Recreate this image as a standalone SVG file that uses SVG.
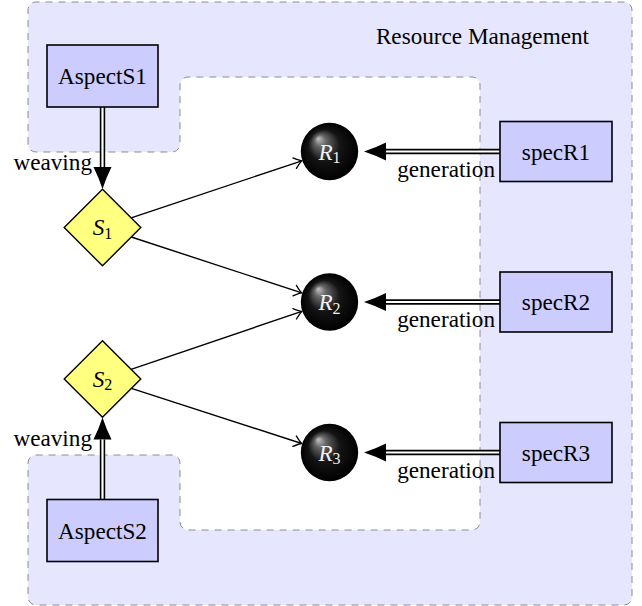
<svg xmlns="http://www.w3.org/2000/svg" width="642" height="606" viewBox="0 0 642 606">
  <defs>
    <radialGradient id="ballShade" cx="0.5" cy="0.5" r="0.5" fx="0.3" fy="0.27">
      <stop offset="0" stop-color="#c4c4c4"/>
      <stop offset="0.2" stop-color="#666666"/>
      <stop offset="0.55" stop-color="#141414"/>
      <stop offset="1" stop-color="#000000"/>
    </radialGradient>
    <!-- open "to" arrow tip for plain connectors -->
    <marker id="toTip" viewBox="-9 -7 11 14" refX="0" refY="0" markerWidth="11" markerHeight="14" markerUnits="userSpaceOnUse" orient="auto" overflow="visible">
      <path d="M -7.5,-5.5 Q -2,-0.8 0,0 Q -2,0.8 -7.5,5.5" fill="none" stroke="#000" stroke-width="1.3" stroke-linecap="round"/>
    </marker>
    <!-- filled latex-style tip for double connectors -->
    <marker id="latexTip" viewBox="-1 -10 24 20" refX="0" refY="0" markerWidth="24" markerHeight="20" markerUnits="userSpaceOnUse" orient="auto" overflow="visible">
      <path d="M 0,-9 Q 10,-4 22,0 Q 10,4 0,9 Z" fill="#000"/>
    </marker>
  </defs>
  <style>
    text { font-family: "Liberation Serif", "Times New Roman", serif; font-size: 23.2px; fill: #000; }
    .region { fill: #e6e6ff; stroke: #8c8c8c; stroke-width: 1; stroke-dasharray: 7 6; }
    .box { fill: #ccccff; stroke: #000; stroke-width: 1.6; }
    .diamond { fill: #ffff80; stroke: #000; stroke-width: 1.4; }
    .ball { fill: url(#ballShade); }
    .ballText { fill: #f2f2f2; }
    .it { font-style: italic; }
    .sub { font-size: 16px; }
    .link { fill: none; stroke: #000; stroke-width: 1.4; marker-end: url(#toTip); }
    .dblOuter { fill: none; stroke: #000; stroke-width: 5.4; marker-end: url(#latexTip); }
    .dblInner { fill: none; stroke: #fff; stroke-width: 2.2; }
  </style>

  <!-- shaded Resource Management area with white working area cut out -->
  <g id="resource-management">
    <path class="region" d="M 28,144 V 10 A 8 8 0 0 1 36,2 H 624 A 8 8 0 0 1 632,10 V 597 A 8 8 0 0 1 624,605 H 36 A 8 8 0 0 1 28,597 V 463 A 8 8 0 0 1 36,455 H 172 A 8 8 0 0 1 180,463 V 522 A 8 8 0 0 0 188,530 H 472 A 8 8 0 0 0 480,522 V 85 A 8 8 0 0 0 472,77 H 188 A 8 8 0 0 0 180,85 V 144 A 8 8 0 0 1 172,152 H 36 A 8 8 0 0 1 28,144 Z"/>
    <text x="589" y="44" text-anchor="end">Resource Management</text>
  </g>

  <!-- connectors -->
  <g id="connectors">
    <line class="link" x1="131.2" y1="217.9" x2="301.8" y2="160.8"/>
    <line class="link" x1="131.3" y1="237.0" x2="301.8" y2="292.9"/>
    <line class="link" x1="131.1" y1="369.3" x2="301.8" y2="311.4"/>
    <line class="link" x1="131.4" y1="388.4" x2="301.7" y2="443.5"/>

    <line class="dblOuter" x1="102.5" y1="107" x2="102.5" y2="167"/>
    <line class="dblInner" x1="102.5" y1="107" x2="102.5" y2="167"/>
    <text x="92" y="170" text-anchor="end">weaving</text>

    <line class="dblOuter" x1="102.5" y1="499.5" x2="102.5" y2="439.5"/>
    <line class="dblInner" x1="102.5" y1="499.5" x2="102.5" y2="439.5"/>
    <text x="92" y="446" text-anchor="end">weaving</text>

    <line class="dblOuter" x1="500" y1="151.5" x2="386" y2="151.5"/>
    <line class="dblInner" x1="500" y1="151.5" x2="386" y2="151.5"/>
    <text x="495" y="177" text-anchor="end">generation</text>

    <line class="dblOuter" x1="500" y1="302" x2="386" y2="302"/>
    <line class="dblInner" x1="500" y1="302" x2="386" y2="302"/>
    <text x="495" y="327" text-anchor="end">generation</text>

    <line class="dblOuter" x1="500" y1="452.5" x2="386" y2="452.5"/>
    <line class="dblInner" x1="500" y1="452.5" x2="386" y2="452.5"/>
    <text x="495" y="478" text-anchor="end">generation</text>
  </g>

  <!-- aspect boxes -->
  <g id="AspectS1">
    <rect class="box" x="47" y="45" width="111" height="62"/>
    <text x="102.5" y="84" text-anchor="middle">AspectS1</text>
  </g>
  <g id="AspectS2">
    <rect class="box" x="47" y="499.5" width="111" height="62"/>
    <text x="102.5" y="538.5" text-anchor="middle">AspectS2</text>
  </g>

  <!-- services -->
  <g id="S1">
    <path class="diamond" d="M 102.5,189.2 L 140.8,227.5 L 102.5,265.8 L 64.2,227.5 Z"/>
    <text x="102.5" y="235" text-anchor="middle"><tspan class="it">S</tspan><tspan class="sub" dy="3.5">1</tspan></text>
  </g>
  <g id="S2">
    <path class="diamond" d="M 102.5,340.7 L 140.8,379 L 102.5,417.3 L 64.2,379 Z"/>
    <text x="102.5" y="386.5" text-anchor="middle"><tspan class="it">S</tspan><tspan class="sub" dy="3.5">2</tspan></text>
  </g>

  <!-- resources -->
  <g id="R1">
    <circle class="ball" cx="329.5" cy="151.5" r="28.7"/>
    <text class="ballText" x="329.5" y="159.5" text-anchor="middle"><tspan class="it">R</tspan><tspan class="sub" dy="3.5">1</tspan></text>
  </g>
  <g id="R2">
    <circle class="ball" cx="329.5" cy="302" r="28.7"/>
    <text class="ballText" x="329.5" y="310" text-anchor="middle"><tspan class="it">R</tspan><tspan class="sub" dy="3.5">2</tspan></text>
  </g>
  <g id="R3">
    <circle class="ball" cx="329.5" cy="452.5" r="28.7"/>
    <text class="ballText" x="329.5" y="460.5" text-anchor="middle"><tspan class="it">R</tspan><tspan class="sub" dy="3.5">3</tspan></text>
  </g>

  <!-- resource specifications -->
  <g id="specR1">
    <rect class="box" x="500" y="121.5" width="112" height="60"/>
    <text x="556" y="159.5" text-anchor="middle">specR1</text>
  </g>
  <g id="specR2">
    <rect class="box" x="500" y="272" width="112" height="60"/>
    <text x="556" y="310" text-anchor="middle">specR2</text>
  </g>
  <g id="specR3">
    <rect class="box" x="500" y="422.5" width="112" height="60"/>
    <text x="556" y="460.5" text-anchor="middle">specR3</text>
  </g>
</svg>
